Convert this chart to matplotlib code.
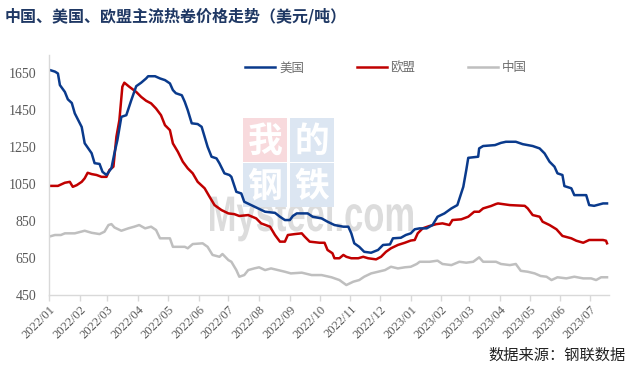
import matplotlib
matplotlib.use("Agg")
import matplotlib.pyplot as plt
import matplotlib.dates as mdates
import matplotlib.transforms as mtransforms
import pandas as pd
from matplotlib.patches import Rectangle, PathPatch
from matplotlib.textpath import TextPath
from matplotlib.font_manager import FontProperties

# ---------------- data ----------------
us_dates = ["2022-01-01","2022-01-07","2022-01-10","2022-01-12","2022-01-17","2022-01-20","2022-01-24",
            "2022-01-27","2022-02-03","2022-02-06","2022-02-13","2022-02-16","2022-02-21","2022-02-24",
            "2022-02-28","2022-03-05","2022-03-08","2022-03-11","2022-03-15","2022-03-20","2022-03-25",
            "2022-03-30","2022-04-04","2022-04-09","2022-04-11","2022-04-18","2022-04-23","2022-04-28",
            "2022-05-03","2022-05-06","2022-05-09","2022-05-15","2022-05-18","2022-05-21","2022-05-25",
            "2022-05-31","2022-06-04","2022-06-07","2022-06-10","2022-06-14","2022-06-19","2022-06-22",
            "2022-06-27","2022-07-02","2022-07-04","2022-07-09","2022-07-14","2022-07-17","2022-07-24",
            "2022-07-31","2022-08-07","2022-08-17","2022-08-22","2022-08-27","2022-09-01","2022-09-04",
            "2022-09-08","2022-09-19","2022-09-24","2022-10-03","2022-10-09","2022-10-16","2022-10-25",
            "2022-10-30","2022-11-02","2022-11-05","2022-11-10","2022-11-15","2022-11-22","2022-11-29",
            "2022-12-04","2022-12-11","2022-12-14","2022-12-22","2022-12-27","2023-01-01","2023-01-05",
            "2023-01-10","2023-01-17","2023-01-23","2023-01-28","2023-02-04","2023-02-11","2023-02-17",
            "2023-02-23","2023-02-26","2023-02-28","2023-03-10","2023-03-11","2023-03-15","2023-03-27",
            "2023-04-02","2023-04-07","2023-04-17","2023-04-24","2023-05-04","2023-05-11","2023-05-16",
            "2023-05-21","2023-05-26","2023-05-29","2023-06-03","2023-06-05","2023-06-12","2023-06-15",
            "2023-06-27","2023-06-30","2023-07-05","2023-07-14","2023-07-18"]
us_values = [1670,1660,1650,1587,1550,1510,1490,
             1434,1360,1272,1218,1164,1160,1117,
             1100,1137,1218,1289,1415,1424,1505,
             1581,1600,1623,1635,1635,1623,1614,
             1596,1560,1543,1532,1496,1451,1380,
             1376,1361,1307,1253,1199,1190,1163,
             1109,1100,1090,1009,1000,955,937,
             919,901,895,874,856,856,878,
             892,892,874,865,847,829,820,
             820,784,730,711,684,679,694,
             721,724,757,760,775,784,806,
             811,811,829,874,892,919,937,
             1036,1127,1193,1199,1244,1257,1262,
             1274,1280,1280,1267,1257,1244,1217,
             1172,1145,1109,1100,1040,1028,991,
             991,937,933,946,946]

eu_dates = ["2022-01-01","2022-01-10","2022-01-17","2022-01-22","2022-01-25","2022-01-29","2022-02-03",
            "2022-02-06","2022-02-09","2022-02-13","2022-02-18","2022-02-23","2022-02-28","2022-03-03",
            "2022-03-07","2022-03-10","2022-03-13","2022-03-16","2022-03-18","2022-03-23","2022-03-30",
            "2022-04-04","2022-04-09","2022-04-14","2022-04-19","2022-04-24","2022-04-28","2022-05-03",
            "2022-05-06","2022-05-11","2022-05-16","2022-05-21","2022-05-26","2022-05-31","2022-06-07",
            "2022-06-12","2022-06-17","2022-06-24","2022-07-01","2022-07-07","2022-07-12","2022-07-21",
            "2022-07-29","2022-08-03","2022-08-12","2022-08-17","2022-08-22","2022-08-27","2022-08-30",
            "2022-09-06","2022-09-13","2022-09-16","2022-09-21","2022-10-01","2022-10-06","2022-10-09",
            "2022-10-14","2022-10-16","2022-10-21","2022-10-25","2022-10-28","2022-11-02","2022-11-09",
            "2022-11-14","2022-11-19","2022-11-27","2022-12-02","2022-12-07","2022-12-12","2022-12-19",
            "2022-12-26","2023-01-01","2023-01-05","2023-01-08","2023-01-13","2023-01-20","2023-01-27",
            "2023-02-02","2023-02-09","2023-02-12","2023-02-21","2023-02-28","2023-03-06","2023-03-11",
            "2023-03-15","2023-03-23","2023-03-28","2023-03-30","2023-04-11","2023-04-26","2023-04-29",
            "2023-05-04","2023-05-11","2023-05-14","2023-05-21","2023-05-28","2023-06-03","2023-06-12",
            "2023-06-17","2023-06-24","2023-06-30","2023-07-14","2023-07-17","2023-07-18"]
eu_values = [1041,1041,1058,1063,1036,1045,1063,
             1082,1112,1105,1100,1090,1090,1127,
             1145,1307,1397,1578,1600,1578,1550,
             1523,1502,1488,1460,1424,1370,1343,
             1271,1226,1172,1136,1109,1063,1028,
             982,937,910,892,888,878,883,
             865,838,820,775,739,739,775,
             780,784,766,739,733,733,694,
             676,649,649,667,657,649,649,
             657,649,643,657,684,703,721,
             733,745,748,784,811,824,834,
             838,829,856,860,874,901,901,
             919,932,943,946,937,933,919,
             883,874,847,829,806,770,757,
             744,733,748,748,744,730]

cn_dates = ["2022-01-01","2022-01-07","2022-01-13","2022-01-17","2022-01-27","2022-02-06","2022-02-13",
            "2022-02-21","2022-02-26","2022-03-02","2022-03-05","2022-03-08","2022-03-15","2022-03-22",
            "2022-03-28","2022-04-02","2022-04-08","2022-04-14","2022-04-19","2022-04-23","2022-05-03",
            "2022-05-06","2022-05-18","2022-05-21","2022-05-26","2022-06-05","2022-06-10","2022-06-15",
            "2022-06-22","2022-06-25","2022-07-01","2022-07-04","2022-07-09","2022-07-12","2022-07-17",
            "2022-07-21","2022-07-27","2022-08-01","2022-08-07","2022-08-13","2022-08-20","2022-08-27",
            "2022-09-02","2022-09-13","2022-09-23","2022-10-03","2022-10-13","2022-10-21","2022-10-28",
            "2022-11-04","2022-11-10","2022-11-15","2022-11-22","2022-11-29","2022-12-06","2022-12-12",
            "2022-12-19","2022-12-26","2023-01-01","2023-01-07","2023-01-10","2023-01-20","2023-01-28",
            "2023-02-02","2023-02-11","2023-02-19","2023-02-26","2023-03-05","2023-03-11","2023-03-15",
            "2023-03-28","2023-04-02","2023-04-11","2023-04-17","2023-04-22","2023-04-29","2023-05-06",
            "2023-05-12","2023-05-18","2023-05-23","2023-05-29","2023-06-07","2023-06-15","2023-06-24",
            "2023-07-02","2023-07-07","2023-07-12","2023-07-18"]
cn_values = [766,775,775,784,784,798,787,
             780,793,829,834,816,798,811,
             820,829,811,820,802,757,757,
             711,711,703,726,730,711,667,
             657,672,639,630,585,549,558,
             585,594,600,585,594,585,576,
             567,571,558,558,546,531,504,
             522,531,549,567,576,585,603,
             594,600,603,618,630,630,636,
             618,612,630,625,630,654,630,
             630,618,612,618,581,576,567,
             553,549,531,546,540,549,540,
             540,531,546,546]

series_names = ["美国", "欧盟", "中国"]
title_text = "中国、美国、欧盟主流热卷价格走势（美元/吨）"
source_text = "数据来源：钢联数据"
y_ticks = [450, 650, 850, 1050, 1250, 1450, 1650]

# ---------------- figure ----------------
W, H = 629, 365
fig = plt.figure(figsize=(W / 100, H / 100), dpi=100)
ax = fig.add_axes([49 / W, (H - 295) / H, (609 - 49) / W, 240 / H])
cjk = ["Noto Sans CJK SC", "DejaVu Sans"]

# watermark (behind the axes)
tp = TextPath((0, 0), "Mysteel.com", size=1,
              prop=FontProperties(family="Liberation Sans", weight="bold"))
ext = tp.get_extents()
sx = 203 / ext.width
sy = 36 / 0.72
wm_tr = mtransforms.Affine2D().translate(-ext.x0, 0).scale(sx, sy).translate(210, H - 231)
fig.add_artist(PathPatch(tp, transform=wm_tr, facecolor="#DCDCDC", edgecolor="none", zorder=0))
boxes = [("我", 243, 118, "#F8DADD"), ("的", 290, 118, "#DCE6F2"),
         ("钢", 243, 163, "#DCE6F2"), ("铁", 290, 163, "#DCE6F2")]
for ch, bx, by, bg in boxes:
    fig.patches.append(Rectangle((bx / W, (H - by - 44) / H), 44 / W, 44 / H,
                                 transform=fig.transFigure, facecolor=bg, edgecolor="none",
                                 zorder=0.2))
    fig.text((bx + 22) / W, (H - by - 23) / H, ch, family=cjk, fontsize=25, color="white",
             fontweight="bold", ha="center", va="center", zorder=0.5)

colors = ["#0A3A8C", "#C00000", "#BFBFBF"]
for name, d, v, c in [(series_names[2], cn_dates, cn_values, colors[2]),
                      (series_names[1], eu_dates, eu_values, colors[1]),
                      (series_names[0], us_dates, us_values, colors[0])]:
    ax.plot(pd.to_datetime(d), v, color=c, lw=1.8, label=name, solid_joinstyle="round")

ax.set_ylim(450, 1750)
ax.set_yticks(y_ticks)
ax.set_xlim(pd.Timestamp("2022-01-01"), pd.Timestamp("2023-07-20"))
ax.xaxis.set_major_locator(mdates.MonthLocator())
ax.xaxis.set_major_formatter(mdates.DateFormatter("%Y/%m"))

for s in ["top", "right"]:
    ax.spines[s].set_visible(False)
for s in ["left", "bottom"]:
    ax.spines[s].set_color("#D9D9D9")
    ax.spines[s].set_linewidth(1.0)

ax.tick_params(axis="y", length=0, pad=9, labelcolor="#595959")
ax.tick_params(axis="x", length=4, width=1, color="#D9D9D9", pad=2, labelcolor="#595959")
for lab in ax.get_yticklabels():
    lab.set_fontfamily("Liberation Serif")
    lab.set_fontsize(10)
for lab in ax.get_xticklabels():
    lab.set_fontfamily("Liberation Serif")
    lab.set_fontsize(9)
    lab.set_rotation(45)
    lab.set_ha("right")
    lab.set_va("top")
    lab.set_rotation_mode("anchor")

ax.set_zorder(2)
ax.patch.set_alpha(0)

leg = ax.legend(handles=[ax.lines[2], ax.lines[1], ax.lines[0]], loc="center",
                bbox_to_anchor=((386 - 49) / 560, (295 - 68) / 240), ncol=3, frameon=False,
                prop={"family": cjk, "size": 9}, handlelength=2.4, columnspacing=4.2,
                handletextpad=0.3, labelcolor="#6E6E6E")

fig.text(5 / W, 1 - 16 / H, title_text, family=cjk, fontsize=11.5, fontweight="bold",
         color="#1F3864", ha="left", va="center")
fig.text(626 / W, 1 - 355 / H, source_text, family=cjk, fontsize=11, color="#222222",
         ha="right", va="center")

fig.savefig("out.png", dpi=100)
